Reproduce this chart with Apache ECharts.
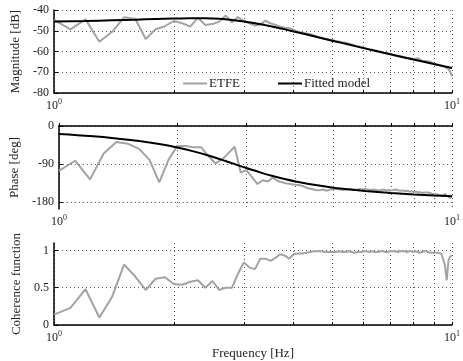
<!DOCTYPE html>
<html>
<head>
<meta charset="utf-8">
<script src="https://cdn.jsdelivr.net/npm/echarts@6/dist/echarts.min.js"></script>
<style>
  html, body { margin: 0; padding: 0; background: #fff; }
  #chart { width: 463px; height: 361px; }
</style>
</head>
<body>
<div id="chart"></div>
<script>
// 频率点 (Hz)
const freq = [
  1.0, 1.1, 1.2, 1.3, 1.4, 1.5, 1.6, 1.7, 1.8, 1.9,
  2.0, 2.1, 2.2, 2.3, 2.4, 2.5, 2.6, 2.7, 2.8, 2.9,
  3.0, 3.1, 3.2, 3.3, 3.4, 3.5, 3.6, 3.7, 3.8, 3.9,
  4.0, 4.1, 4.2, 4.3, 4.4, 4.5, 4.6, 4.7, 4.8, 4.9,
  5.0, 5.1, 5.2, 5.3, 5.4, 5.5, 5.6, 5.7, 5.8, 5.9,
  6.0, 6.1, 6.2, 6.3, 6.4, 6.5, 6.6, 6.7, 6.8, 6.9,
  7.0, 7.1, 7.2, 7.3, 7.4, 7.5, 7.6, 7.7, 7.8, 7.9,
  8.0, 8.1, 8.2, 8.3, 8.4, 8.5, 8.6, 8.7, 8.8, 8.9,
  9.0, 9.1, 9.2, 9.3, 9.4, 9.5, 9.6, 9.7, 9.8, 9.9,
  10.0
]
// ETFE 幅值 [dB]
const magEtfe = [
  -44.8, -49.3, -44.5, -55.3, -50.5, -43.5, -44.2, -54.0, -49.3, -47.8,
  -45.3, -46.4, -48.0, -43.7, -47.2, -46.8, -45.6, -42.7, -45.9, -43.4,
  -45.3, -46.4, -47.5, -46.9, -45.1, -46.4, -47.2, -47.9, -48.5, -48.8,
  -49.6, -50.5, -51.0, -51.3, -51.6, -52.3, -53.0, -53.4, -53.9, -54.2,
  -54.5, -54.9, -55.2, -55.5, -55.7, -56.2, -56.6, -57.1, -57.5, -57.8,
  -58.2, -58.6, -59.0, -59.2, -59.5, -59.8, -60.1, -60.5, -60.9, -61.0,
  -61.3, -61.6, -61.8, -62.0, -62.2, -62.5, -62.8, -63.0, -63.1, -63.4,
  -63.5, -63.5, -63.2, -63.8, -64.5, -64.6, -64.6, -65.2, -64.9, -65.5,
  -66.0, -65.6, -66.4, -66.0, -66.9, -66.5, -67.4, -66.8, -68.5, -69.8,
  -72.0
]
// ETFE 相位 [deg]
const phaseEtfe = [
  -106, -82, -126, -65, -38, -42, -54, -80, -133, -80,
  -47, -47, -50, -50, -71, -88, -79, -64, -49, -110,
  -104, -121, -137, -128, -131, -122, -130, -133, -136, -137,
  -139, -140, -143, -147, -149, -151, -152, -150, -153, -150,
  -149, -149, -150, -151, -150, -149, -150, -151, -149, -150,
  -149, -150, -151, -150, -151, -152, -151, -150, -152, -151,
  -152, -151, -150, -152, -153, -152, -154, -153, -155, -154,
  -156, -155, -157, -156, -158, -157, -159, -157, -158, -160,
  -159, -161, -160, -163, -162, -166, -160, -165, -164, -170,
  -163
]
// 相干函数
const coherence = [
  0.14, 0.23, 0.48, 0.10, 0.38, 0.81, 0.65, 0.47, 0.62, 0.64,
  0.55, 0.54, 0.58, 0.60, 0.50, 0.59, 0.47, 0.50, 0.50, 0.69,
  0.84, 0.77, 0.75, 0.89, 0.89, 0.86, 0.90, 0.95, 0.93, 0.89,
  0.95, 0.96, 0.96, 0.97, 0.98, 0.99, 0.99, 0.99, 0.98, 0.98,
  0.98, 0.98, 0.99, 0.98, 0.98, 0.99, 0.98, 0.97, 0.98, 0.98,
  0.99, 0.99, 0.98, 0.99, 0.98, 0.98, 0.99, 0.99, 0.98, 0.98,
  0.99, 0.99, 0.99, 0.98, 0.99, 0.99, 0.99, 0.98, 0.99, 0.99,
  0.98, 0.99, 0.98, 0.97, 0.98, 0.99, 0.99, 0.98, 0.97, 0.96,
  0.97, 0.96, 0.97, 0.95, 0.96, 0.95, 0.80, 0.60, 0.87, 0.92,
  0.93
]
// 拟合模型
const fitFreq = [1, 1.2, 1.4, 1.6, 1.8, 2, 2.2, 2.4, 2.6, 2.8, 3, 3.25, 3.5, 3.75, 4, 4.5, 5, 5.5, 6, 7, 8, 9, 10]
const fitMag = [-45.6, -45.31, -44.99, -44.65, -44.33, -44.08, -43.95, -44.0, -44.27, -44.79, -45.5, -46.6, -47.82, -49.08, -50.32, -52.66, -54.78, -56.67, -58.38, -61.35, -63.87, -66.05, -67.98]
const fitPhase = [-19, -23.8, -29.3, -35.5, -42.6, -50.8, -59.9, -69.8, -80, -90, -99.3, -109.6, -118.2, -125.2, -130.9, -139.5, -145.6, -150, -153.4, -158.2, -161.5, -163.9, -165.7]

// 刻度
const xTicks = [1, 2, 3, 4, 5, 6, 7, 8, 9, 10]
const xLabels = [1, 10]
const magTicks = [-80, -70, -60, -50, -40]
const phaseTicks = [-180, -90, 0]
const cohTicks = [0, 0.5, 1]

const FONT = 'Liberation Serif'
const GRAY = '#a3a3a3'
const TXT = '#222'

const pair = (xs, ys) => xs.map((x, i) => [x, ys[i]])

const chartInstance = echarts.init(document.getElementById('chart'), null, { renderer: 'canvas' })

const grids = [
  { left: 54, top: 10, width: 402, height: 83 },
  { left: 54, top: 126, width: 402, height: 83 },
  { left: 54, top: 243, width: 402, height: 84 }
]

const dotted = { color: '#555', width: 1, type: [1, 3] }

function makeX (idx) {
  const ax = {
    type: 'log',
    logBase: 10,
    gridIndex: idx,
    min: 1,
    max: 10,
    axisLine: { show: true, lineStyle: { color: '#000', width: 1.5 } },
    axisTick: { show: true, inside: true, length: 3, customValues: xTicks, lineStyle: { color: '#000' } },
    axisLabel: {
      customValues: xLabels,
      margin: 5,
      color: TXT,
      fontFamily: FONT,
      formatter: v => (v === 1 ? '{b|10}{s|0}' : '{b|10}{s|1}'),
      rich: {
        b: { fontSize: 12, fontFamily: FONT, color: TXT, lineHeight: 14, verticalAlign: 'bottom' },
        s: { fontSize: 8, fontFamily: FONT, color: TXT, lineHeight: 14, verticalAlign: 'top' }
      }
    },
    splitLine: { show: true, lineStyle: dotted }
  }
  if (idx === 2) {
    ax.name = 'Frequency [Hz]'
    ax.nameLocation = 'middle'
    ax.nameGap = 22
    ax.nameTextStyle = { fontFamily: FONT, fontSize: 13, color: TXT }
  }
  return ax
}

function makeY (idx, name, min, max, ticks, gap) {
  return {
    type: 'value',
    gridIndex: idx,
    min: min,
    max: max,
    name: name,
    nameLocation: 'middle',
    nameGap: gap,
    nameTextStyle: { fontFamily: FONT, fontSize: 13, color: TXT },
    axisLine: { show: true, lineStyle: { color: '#000', width: 1.5 } },
    axisTick: { show: true, inside: true, length: 4, customValues: ticks, lineStyle: { color: '#000' } },
    axisLabel: { customValues: ticks, color: TXT, fontFamily: FONT, fontSize: 12, margin: 5 },
    splitLine: { show: true, lineStyle: dotted }
  }
}

// 图例：只画线段，不画圆点
const legendBase = {
  top: 72, icon: 'rect', itemWidth: 24, itemHeight: 2, itemGap: 4,
  textStyle: { fontFamily: FONT, fontSize: 13, color: TXT, padding: [0, 0, 0, -3] }
}

const option = {
  animation: false,
  backgroundColor: '#fff',
  textStyle: { fontFamily: FONT },
  grid: grids,
  xAxis: [makeX(0), makeX(1), makeX(2)],
  yAxis: [
    makeY(0, 'Magnitude [dB]', -80, -40, magTicks, 30),
    makeY(1, 'Phase [deg]', -196, 0, phaseTicks, 34),
    makeY(2, 'Coherence function', 0, 1.1, cohTicks, 30)
  ],
  legend: [
    Object.assign({ data: ['ETFE'], left: 178 }, legendBase),
    Object.assign({ data: ['Fitted model'], left: 273 }, legendBase)
  ],
  series: [
    {
      name: 'ETFE', type: 'line', xAxisIndex: 0, yAxisIndex: 0, symbol: 'none',
      lineStyle: { color: GRAY, width: 2 }, itemStyle: { color: GRAY },
      data: pair(freq, magEtfe)
    },
    {
      name: 'Fitted model', type: 'line', xAxisIndex: 0, yAxisIndex: 0, symbol: 'none', smooth: 0.3,
      lineStyle: { color: '#000', width: 2 }, itemStyle: { color: '#000' },
      data: pair(fitFreq, fitMag)
    },
    {
      name: 'ETFE', type: 'line', xAxisIndex: 1, yAxisIndex: 1, symbol: 'none',
      lineStyle: { color: GRAY, width: 2 }, itemStyle: { color: GRAY },
      data: pair(freq, phaseEtfe)
    },
    {
      name: 'Fitted model', type: 'line', xAxisIndex: 1, yAxisIndex: 1, symbol: 'none', smooth: 0.3,
      lineStyle: { color: '#000', width: 2 }, itemStyle: { color: '#000' },
      data: pair(fitFreq, fitPhase)
    },
    {
      name: 'Coherence', type: 'line', xAxisIndex: 2, yAxisIndex: 2, symbol: 'none',
      lineStyle: { color: GRAY, width: 2 }, itemStyle: { color: GRAY },
      data: pair(freq, coherence)
    }
  ]
}

chartInstance.setOption(option)
</script>
</body>
</html>
